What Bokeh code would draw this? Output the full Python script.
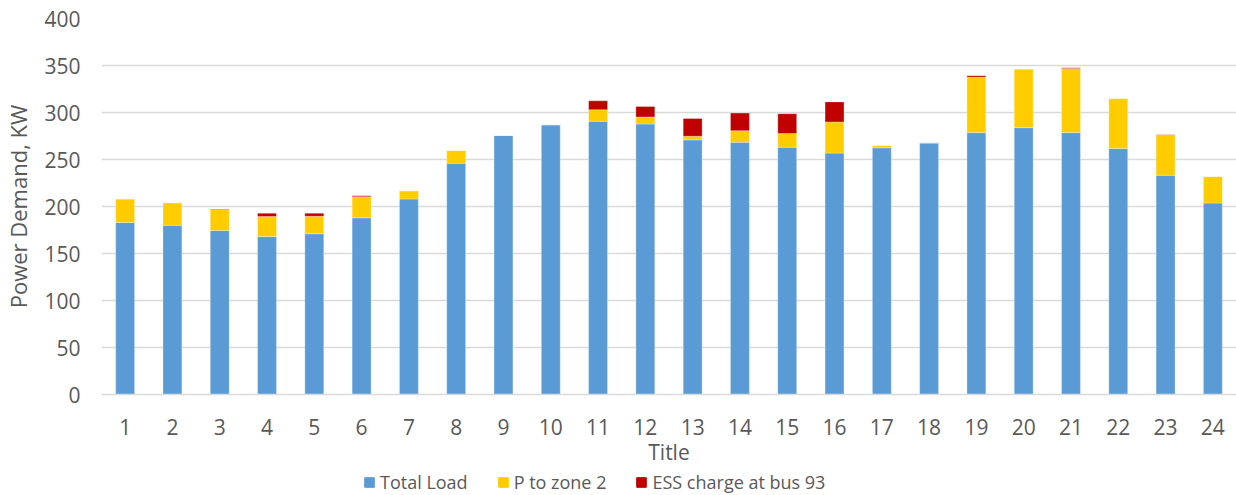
from bokeh.plotting import figure
from bokeh.models import Range1d, Legend, LegendItem, FixedTicker
from bokeh.layouts import column
from bokeh.embed import file_html
from bokeh.resources import INLINE

hours = list(range(1, 25))
total_load = [183, 180, 174.5, 168, 171, 188, 208, 246, 275.5, 287, 290.6, 287.8,
              270.9, 268.4, 263.1, 256.8, 262.5, 267.7, 278.6, 283.9, 278.6, 261.7, 233.2, 203.7]
p_zone2 = [25, 24, 22.2, 21.3, 18.6, 22.4, 8.7, 13.6, 0, 0, 12.3, 7.4,
           3.8, 12.3, 14.5, 33.1, 2.5, 0, 58.8, 62.3, 68.3, 53.1, 42.6, 28.2]
ess_charge = [0, 0, 0.7, 3.5, 3.2, 1.0, 0, 0, 0, 0, 9.5, 11.2,
              19.0, 18.7, 21.1, 21.4, 0, 0, 1.7, 0, 0.7, 0, 0.5, 0]

series = ["Total Load", "P to zone 2", "ESS charge at bus 93"]
colors = ["#5B9BD5", "#FFCC00", "#C00000"]

data = {"x": hours, "Total Load": total_load, "P to zone 2": p_zone2,
        "ESS charge at bus 93": ess_charge}

FONT = "Open Sans"
TXT = "#595959"

p = figure(width=1236, height=468, output_backend="svg", toolbar_location=None,
           x_range=Range1d(0.5, 24.5), y_range=Range1d(0, 400),
           min_border_left=99, min_border_right=0, min_border_top=18, min_border_bottom=71)

rs = p.vbar_stack(series, x="x", width=0.4, color=colors, source=data,
                  line_color="white", line_width=0.5, line_alpha=0.6)

p.outline_line_color = None
p.xgrid.grid_line_color = None
p.ygrid.grid_line_color = "#D9D9D9"
p.ygrid.grid_line_width = 1.3

p.yaxis.ticker = FixedTicker(ticks=list(range(0, 401, 50)))
p.xaxis.ticker = FixedTicker(ticks=hours)

for ax in (p.xaxis[0], p.yaxis[0]):
    ax.major_tick_line_color = None
    ax.minor_tick_line_color = None
    ax.major_tick_out = 0
    ax.major_tick_in = 0
    ax.major_label_text_font = FONT
    ax.major_label_text_font_size = "21px"
    ax.major_label_text_color = TXT
    ax.axis_label_text_font = FONT
    ax.axis_label_text_color = TXT
    ax.axis_label_text_font_style = "normal"

p.yaxis.axis_line_color = None
p.yaxis.axis_label = "Power Demand, KW"
p.yaxis.axis_label_text_font_size = "22px"
p.yaxis.major_label_standoff = 21
p.yaxis.axis_label_standoff = 8
p.xaxis.axis_line_color = "#D9D9D9"
p.xaxis.axis_line_width = 1.3
p.xaxis.axis_label = "Title"
p.xaxis.axis_label_text_font_size = "21px"
p.xaxis.major_label_standoff = 24
p.xaxis.axis_label_standoff = 0

# legend strip below the chart (same series, drawn out of view, only for the legend keys)
lg = figure(width=1236, height=27, output_backend="svg", toolbar_location=None,
            x_axis_type=None, y_axis_type=None,
            x_range=Range1d(0.5, 24.5), y_range=Range1d(1000, 1001),
            min_border_left=0, min_border_right=0, min_border_top=0, min_border_bottom=0)
lg.grid.visible = False
lg.outline_line_color = None
keys = lg.vbar_stack(series, x="x", width=0.4, color=colors, source=data)

legend = Legend(items=[LegendItem(label=s, renderers=[r]) for s, r in zip(series, keys)],
                orientation="horizontal", location=(262, 1),
                label_text_font=FONT, label_text_font_size="18px", label_text_color=TXT,
                glyph_width=12, glyph_height=12, label_standoff=5, spacing=29,
                padding=0, margin=0,
                border_line_color=None, background_fill_alpha=0)
lg.add_layout(legend, "center")

layout = column(p, lg, spacing=0)
open("out.html", "w").write(file_html(layout, INLINE))
